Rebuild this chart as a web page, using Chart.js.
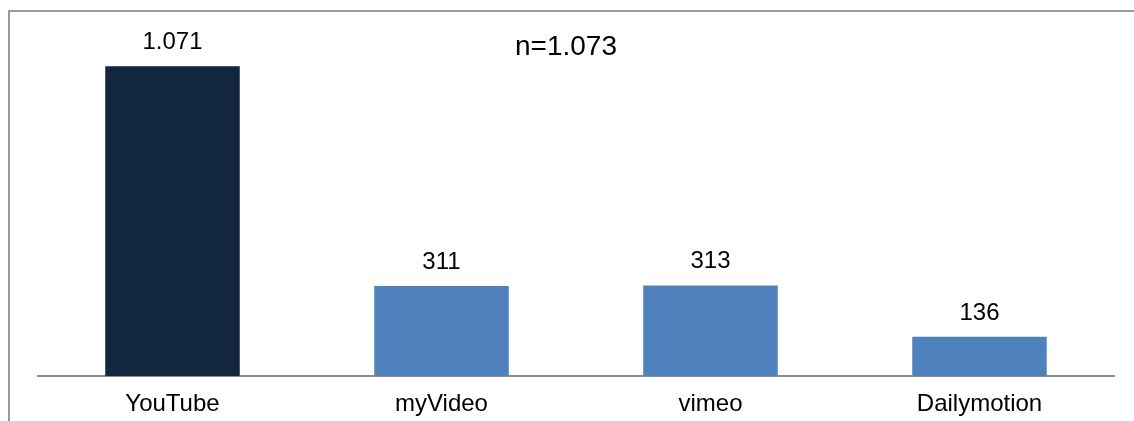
<!DOCTYPE html>
<html>
<head>
<meta charset="utf-8">
<style>
  html, body { margin: 0; padding: 0; background: #ffffff; }
  #wrap { position: relative; width: 1134px; height: 421px; overflow: hidden; }
  #frame { position: absolute; left: 8px; top: 10px; width: 1200px; height: 500px;
           border-left: 2px solid #9a9a9a; border-top: 2px solid #9a9a9a; }
  canvas { position: absolute; left: 0; top: 0; }
</style>
<script src="https://cdn.jsdelivr.net/npm/chart.js@4/dist/chart.umd.min.js"></script>
</head>
<body>
<div id="wrap">
  <div id="frame"></div>
  <canvas id="c" width="1134" height="421"></canvas>
</div>
<script>
const categories = ['YouTube', 'myVideo', 'vimeo', 'Dailymotion'];
const values = [1071, 311, 313, 136];
const valueLabels = ['1.071', '311', '313', '136'];
const sampleLabel = 'n=1.073';
const barColors = ['#132640', '#4F81BD', '#4F81BD', '#4F81BD'];

const FONT = '"Liberation Sans", Arial, sans-serif';

const labelPlugin = {
  id: 'labels',
  afterDatasetsDraw(chart) {
    const ctx = chart.ctx;
    const meta = chart.getDatasetMeta(0);
    ctx.save();
    ctx.fillStyle = '#000000';
    ctx.textAlign = 'center';
    ctx.textBaseline = 'alphabetic';
    ctx.font = '24px ' + FONT;
    meta.data.forEach((bar, i) => {
      ctx.fillText(valueLabels[i], bar.x, bar.y - 17);
    });
    ctx.font = '28px ' + FONT;
    ctx.fillText(sampleLabel, 566, 55);
    ctx.restore();
  }
};

new Chart(document.getElementById('c'), {
  type: 'bar',
  data: {
    labels: categories,
    datasets: [{
      data: values,
      backgroundColor: barColors,
      borderWidth: 0,
      barPercentage: 0.5,
      categoryPercentage: 1.0
    }]
  },
  options: {
    responsive: false,
    animation: false,
    layout: { padding: { left: 38, right: 20, top: 29, bottom: 0 } },
    plugins: { legend: { display: false }, tooltip: { enabled: false }, title: { display: false } },
    scales: {
      x: {
        grid: { display: false, drawTicks: false },
        border: { display: true, color: '#8a8a8a', width: 2 },
        ticks: { color: '#000000', padding: 14, font: { family: FONT, size: 24 } },
        afterFit(scale) { scale.height = 45; }
      },
      y: {
        display: false,
        min: 0,
        max: 1200
      }
    }
  },
  plugins: [labelPlugin]
});
</script>
</body>
</html>
